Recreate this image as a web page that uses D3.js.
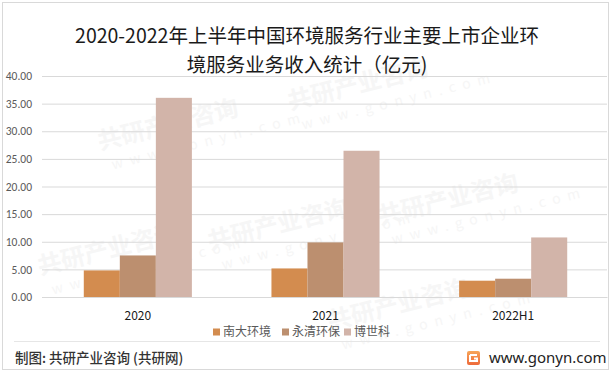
<!DOCTYPE html>
<html>
<head>
<meta charset="utf-8">
<script src="https://cdn.jsdelivr.net/npm/d3@7"></script>
<style>
  html, body { margin: 0; padding: 0; background: #fff; }
  svg text { font-family: "Microsoft YaHei", "Noto Sans CJK SC", "Noto Sans", sans-serif; }
</style>
</head>
<body>
<div id="chart"></div>
<script>
// 数据
const categories = ['2020', '2021', '2022H1'];
const seriesNames = ['南大环境', '永清环保', '博世科'];
const nandaValues = [4.81, 5.17, 2.95];
const yongqingValues = [7.52, 9.88, 3.31];
const boshikeValues = [36.05, 26.47, 10.78];
const yTicks = [0, 5, 10, 15, 20, 25, 30, 35, 40];
const titleLines = ['2020-2022年上半年中国环境服务行业主要上市企业环', '境服务业务收入统计（亿元)'];

const colors = ['#D38C4F', '#BC8F6F', '#D2B4A9'];
const seriesValues = [nandaValues, yongqingValues, boshikeValues];

const width = 613, height = 373;

const svg = d3.select('#chart')
    .append('svg')
    .attr('width', width)
    .attr('height', height);

// 外框
svg.append('rect')
    .attr('x', 2.5).attr('y', 2.5)
    .attr('width', 606).attr('height', 367)
    .attr('fill', '#fff')
    .attr('stroke', '#d9d9d9');

// 水印（很淡）
const wm = svg.append('g').attr('class', 'watermark');
const wmPos = [[100, 150], [290, 110], [380, 225], [210, 250], [40, 275], [330, 330]];
wmPos.forEach(([x, y]) => {
    const g = wm.append('g').attr('transform', `translate(${x},${y}) rotate(-14)`);
    g.append('text')
        .attr('font-size', 24).attr('font-weight', 'bold')
        .attr('fill', '#f6f6f6')
        .text('共研产业咨询');
    g.append('text')
        .attr('y', 22).attr('x', 8)
        .attr('font-size', 14)
        .attr('letter-spacing', 7)
        .attr('fill', '#f6f6f6')
        .text('www.gonyn.com');
});

// 标题
svg.append('g').selectAll('text')
    .data(titleLines)
    .enter()
    .append('text')
    .attr('x', 307)
    .attr('y', (d, i) => 43 + i * 29)
    .attr('text-anchor', 'middle')
    .attr('font-size', 19.5)
    .attr('fill', '#1a1a1a')
    .text(d => d);

// 比例尺
const y = d3.scaleLinear().domain([0, 40]).range([297, 76]);
const x0 = d3.scaleBand().domain(categories).range([44, 607]).padding(0);
const groupWidth = x0.step() * 0.576;
const x1 = d3.scaleBand().domain(seriesNames).range([0, groupWidth]).padding(0);

// 网格线 + y 轴
const yAxis = d3.axisLeft(y)
    .tickValues(yTicks)
    .tickFormat(d3.format('.2f'))
    .tickSize(-(607 - 42));
const yG = svg.append('g')
    .attr('transform', 'translate(42,0)')
    .call(yAxis);
yG.select('.domain').remove();
yG.selectAll('.tick line').attr('stroke', '#d9d9d9').attr('stroke-width', 1);
yG.selectAll('.tick text')
    .attr('x', -10)
    .attr('fill', '#595959')
    .attr('font-size', 11.5)
    .style('font-family', 'Calibri, Carlito, "Liberation Sans", sans-serif');

// 柱子
const groups = svg.append('g').selectAll('g')
    .data(categories)
    .enter()
    .append('g')
    .attr('transform', d => `translate(${x0(d) + (x0.step() - groupWidth) / 2},0)`);

groups.selectAll('rect')
    .data((c, ci) => seriesNames.map((s, si) => ({ s, si, v: seriesValues[si][ci] })))
    .enter()
    .append('rect')
    .attr('x', d => x1(d.s))
    .attr('y', d => y(d.v))
    .attr('width', x1.bandwidth())
    .attr('height', d => y(0) - y(d.v))
    .attr('fill', d => colors[d.si]);

// x 轴标签
const xAxis = d3.axisBottom(x0).tickSize(0).tickPadding(14);
const xG = svg.append('g')
    .attr('transform', 'translate(0,297)')
    .call(xAxis);
xG.select('.domain').attr('stroke', '#d9d9d9');
xG.selectAll('.tick text')
    .attr('fill', '#1a1a1a')
    .attr('font-size', 12);

// 图例
const legendX = [213, 282, 344];
const legend = svg.append('g').selectAll('g')
    .data(seriesNames)
    .enter()
    .append('g')
    .attr('transform', (d, i) => `translate(${legendX[i]},332)`);
legend.append('rect')
    .attr('x', 0).attr('y', -3.5)
    .attr('width', 7).attr('height', 7)
    .attr('fill', (d, i) => colors[i]);
legend.append('text')
    .attr('x', 10)
    .attr('dy', '0.36em')
    .attr('font-size', 12)
    .attr('fill', '#595959')
    .text(d => d);

// 底部
svg.append('line')
    .attr('x1', 14).attr('x2', 600)
    .attr('y1', 341.5).attr('y2', 341.5)
    .attr('stroke', '#e6e6e6');

svg.append('text')
    .attr('x', 15)
    .attr('y', 358)
    .attr('dy', '0.36em')
    .attr('font-size', 13.5)
    .attr('font-weight', 500)
    .attr('fill', '#333')
    .text('制图: 共研产业咨询 (共研网)');

// logo
const defs = svg.append('defs');
const grad = defs.append('linearGradient').attr('id', 'logoGrad')
    .attr('x1', 0).attr('y1', 0).attr('x2', 0).attr('y2', 1);
grad.append('stop').attr('offset', '0%').attr('stop-color', '#F7A65A');
grad.append('stop').attr('offset', '100%').attr('stop-color', '#EE6A3A');
const logo = svg.append('g').attr('transform', 'translate(467,351)');
logo.append('rect')
    .attr('width', 13).attr('height', 14).attr('rx', 2)
    .attr('fill', 'url(#logoGrad)');
logo.append('path')
    .attr('d', 'M3,4 H10 M3,4 V10 H10 V7.5 H7')
    .attr('fill', 'none')
    .attr('stroke', '#fff')
    .attr('stroke-width', 2);

svg.append('text')
    .attr('x', 489)
    .attr('y', 358)
    .attr('dy', '0.36em')
    .attr('font-size', 15)
    .attr('fill', '#222')
    .style('font-family', '"Noto Sans", "Open Sans", sans-serif')
    .text('www.gonyn.com');
</script>
</body>
</html>
